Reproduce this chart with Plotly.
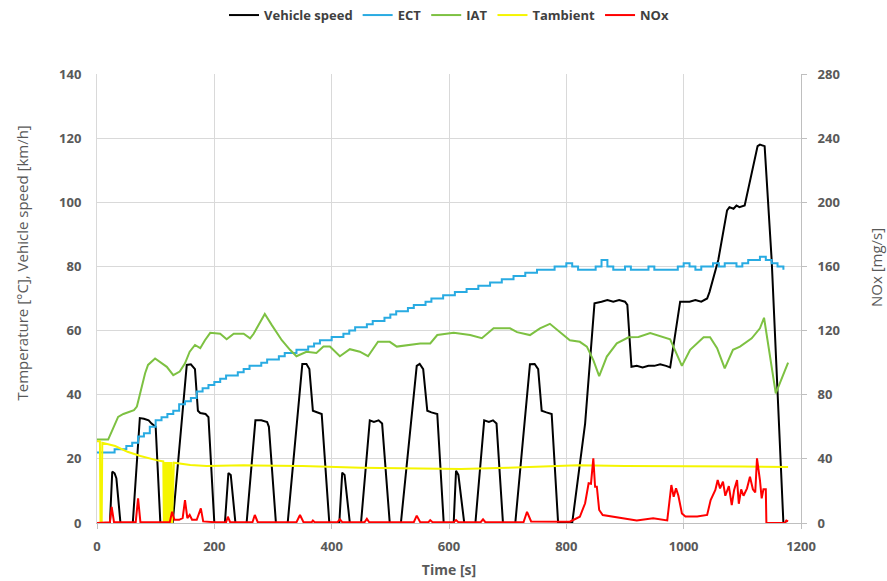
import plotly.graph_objects as go

# ---- Vehicle speed [km/h] ----
speed_t = [0, 22, 26, 30, 33, 40, 61, 73, 80, 88, 93, 100, 108, 129, 153, 160, 167, 172, 176, 185,
           190, 200, 218, 224, 228, 236, 255, 270, 280, 290, 293, 305, 325, 350, 357, 362, 368, 375,
           383, 396, 413, 418, 422, 431, 450, 465, 472, 480, 486, 499, 518, 545, 550, 556, 563, 570,
           580, 591, 608, 612, 616, 626, 645, 660, 668, 675, 681, 692, 713, 738, 746, 752, 758, 766,
           775, 786, 810, 832, 848, 860, 870, 880, 890, 900, 904, 911, 920, 930, 940, 950, 960, 970,
           977, 994, 1000, 1010, 1020, 1030, 1040, 1044, 1059, 1074, 1078, 1085, 1090, 1095, 1104,
           1116, 1126, 1130, 1138, 1150, 1170, 1175]
speed_v = [0, 0, 16, 15.5, 14, 0, 0, 32.7, 32.5, 32, 31, 30, 0, 0, 49.3, 49.5, 48, 35, 34.3, 34,
           33, 0, 0, 15.6, 15, 0, 0, 32, 32, 31.5, 30, 0, 0, 49.6, 49.6, 48, 35, 34.5,
           34, 0, 0, 15.7, 15, 0, 0, 32, 31.5, 32, 31, 0, 0, 49, 49.6, 48, 35, 34.5,
           34, 0, 0, 16.3, 15, 0, 0, 32, 31.5, 32, 31, 0, 0, 49.5, 49.6, 48, 35, 34.5,
           34, 0, 0, 31, 68.5, 69, 69.5, 69, 69.5, 69, 68, 48.7, 49, 48.5, 49, 49, 49.5, 49,
           48.5, 69, 69, 69, 69.5, 69, 70, 72, 82, 97.5, 98.5, 98, 99, 98.5, 99,
           109, 117.5, 118, 117.5, 82, 0, 0]

# ---- Engine coolant temperature [°C], logged every 10 s ----
ect_t = list(range(0, 1180, 10))
ect_v = [22, 22, 22, 23, 23, 24, 25, 27, 28, 30, 32, 33, 34, 35, 37, 38, 39, 41, 42, 43,
         44, 45, 46, 46, 47, 48, 49, 49, 50, 51, 51, 52, 53, 53, 54, 54, 55, 56, 57, 57,
         58, 58, 59, 60, 61, 61, 62, 63, 63, 64, 65, 66, 66, 67, 68, 68, 69, 70, 70, 71,
         71, 72, 72, 73, 73, 74, 74, 75, 75, 76, 76, 77, 77, 78, 78, 79, 79, 79, 80, 80,
         81, 80, 79, 79, 79, 80, 82, 80, 79, 79, 80, 79, 79, 79, 80, 79, 79, 79, 79, 80,
         81, 80, 79, 80, 80, 81, 80, 81, 81, 80, 81, 82, 82, 83, 82, 81, 80, 79]

# ---- Intake air temperature [°C] ----
iat_t = [0, 19, 25, 36, 45, 63, 68, 73, 82, 87, 99, 119, 130, 141, 150, 158, 167, 176, 184, 193,
         210, 221, 233, 250, 261, 267, 286, 298, 315, 329, 340, 357, 374, 386, 397, 414, 431, 448,
         462, 479, 499, 511, 534, 551, 568, 580, 608, 636, 656, 676, 704, 716, 738, 755, 772, 790,
         806, 823, 835, 846, 856, 869, 886, 906, 923, 943, 960, 977, 997, 1011, 1034, 1045, 1057,
         1070, 1084, 1096, 1116, 1130, 1137, 1145, 1157, 1178]
iat_v = [26, 26, 28.5, 33.1, 34, 35.2, 36.3, 40.4, 46.7, 49.3, 51.3, 48.7, 46.1, 47.2, 49.8, 53.4,
         55.5, 54.5, 57, 59.3, 59, 57.3, 59, 59, 57.6, 59, 65.2, 61.7, 57, 54, 52, 53.4, 53, 55,
         55, 52, 54.2, 53.4, 52, 56.5, 56.5, 55, 55.5, 56, 56, 58.6, 59.3, 58.6, 57.6, 60.7, 60.7,
         59.5, 58.6, 60.7, 62.1, 59.3, 57, 56.5, 55, 50.8, 45.8, 51.9, 56, 57.9, 58, 59.2, 58.2,
         57.3, 49, 54, 57.9, 57.9, 54.5, 48.2, 54, 55, 57.6, 60.7, 64, 55, 40.4, 50]

# ---- Ambient temperature [°C] ----
tamb_t = [0, 5, 6, 8, 9, 31, 52, 74, 101, 113, 114, 115, 116, 117, 118, 119, 120, 121, 122, 123,
          124, 125, 126, 127, 128, 131, 159, 187, 250, 350, 450, 550, 620, 700, 760, 820, 900,
          1000, 1100, 1178]
tamb_v = [25.5, 25.5, 0, 0, 25, 24, 22.2, 20.9, 19.6, 19.2, 0, 19, 0, 19, 0, 19, 0, 19, 0, 19,
          0, 19, 0, 19, 0, 18.8, 18.1, 17.8, 18, 17.8, 17.2, 17, 16.8, 17.2, 17.6, 18, 17.8,
          17.8, 17.6, 17.5]

# ---- NOx mass flow [mg/s] ----
nox_t = [0, 22, 25, 29, 66, 70, 74, 124, 128, 132, 140, 146, 150, 154, 158, 162, 170, 177, 181,
         200, 220, 223, 227, 265, 269, 274, 340, 346, 352, 366, 368, 371, 410, 414, 418, 456, 460,
         464, 540, 545, 551, 565, 568, 572, 608, 612, 616, 654, 658, 662, 727, 733, 740, 806, 823,
         832, 838, 842, 846, 849, 852, 856, 862, 880, 903, 920, 948, 972, 979, 983, 987, 991, 997,
         1003, 1023, 1040, 1046, 1054, 1058, 1062, 1067, 1071, 1077, 1082, 1086, 1091, 1094, 1098,
         1102, 1108, 1113, 1118, 1122, 1125, 1130, 1133, 1136, 1140, 1141, 1172, 1175, 1178]
nox_v = [0, 0.5, 10, 0.5, 0.5, 15.4, 0.5, 0.5, 7, 2, 2, 3, 14.3, 3, 5, 2, 2, 9.1, 1,
         0.5, 0.5, 3.9, 0.5, 0.5, 5, 0.5, 0.5, 5, 0.5, 0.5, 1.5, 0.5, 0.5, 2.3, 0.5, 0.5, 2.6,
         0.5, 0.5, 4.6, 0.5, 0.5, 1.8, 0.5, 0.5, 1.8, 0.5, 0.5, 2.3, 0.5, 0.5, 7, 1, 0.8, 3.9,
         12.3, 24.8, 24.5, 40.3, 22.6, 22.6, 8.1, 5, 4, 2.3, 1.6, 3, 1.6, 23.7, 16.4, 21.6, 17, 6,
         4, 4, 5, 14.3, 20.6, 26.8, 21.6, 25.8, 17, 23, 11.2, 20.6, 26.8, 12, 21,
         17, 21.6, 28.9, 21, 19, 40.3, 26.8, 15.4, 21, 21, 0, 0, 1.5, 1]

grey = "#595959"
grid = "#d9d9d9"
axis_line = "#bfbfbf"
font_family = "Open Sans, Lato, sans-serif"

fig = go.Figure()
fig.add_trace(go.Scatter(x=speed_t, y=speed_v, name="Vehicle speed", mode="lines",
                         line=dict(color="#000000", width=2)))
fig.add_trace(go.Scatter(x=ect_t, y=ect_v, name="ECT", mode="lines",
                         line=dict(color="#29abe2", width=2, shape="hv")))
fig.add_trace(go.Scatter(x=iat_t, y=iat_v, name="IAT", mode="lines",
                         line=dict(color="#7dc142", width=2)))
fig.add_trace(go.Scatter(x=tamb_t, y=tamb_v, name="Tambient", mode="lines",
                         line=dict(color="#f5f500", width=2)))
fig.add_trace(go.Scatter(x=nox_t, y=nox_v, name="NOx", mode="lines", yaxis="y2",
                         line=dict(color="#ff0000", width=2)))

tick_font = dict(family=font_family, size=13, color=grey, weight="bold")
title_font = dict(family=font_family, size=15, color=grey)

fig.update_layout(
    width=887, height=581,
    margin=dict(l=97, r=86, t=74, b=58),
    paper_bgcolor="white", plot_bgcolor="white",
    font=dict(family=font_family, color=grey),
    showlegend=True,
    legend=dict(orientation="h", x=0.5, xanchor="center", y=0.974, yref="container",
                yanchor="middle", font=dict(family=font_family, size=13, color="#404040",
                                              weight="bold"),
                bgcolor="rgba(0,0,0,0)"),
    xaxis=dict(range=[0, 1200], dtick=200, tick0=0, showgrid=True, gridcolor=grid, gridwidth=1,
               showline=True, linecolor=axis_line, linewidth=1, zeroline=False,
               ticks="outside", ticklen=5, tickcolor=axis_line, tickfont=tick_font,
               ticklabelstandoff=6,
               title=dict(text="Time [s]", font=dict(family=font_family, size=14, color=grey,
                                                     weight="bold"), standoff=11),
               automargin=False),
    yaxis=dict(range=[0, 140], dtick=20, tick0=0, showgrid=True, gridcolor=grid, gridwidth=1,
               showline=True, linecolor=grid, linewidth=1, zeroline=False,
               ticks="", tickfont=tick_font, ticklabelstandoff=12,
               automargin=False),
    yaxis2=dict(range=[0, 280], dtick=40, tick0=0, overlaying="y", side="right",
                showgrid=False, showline=True, linecolor=axis_line, linewidth=1, zeroline=False,
                ticks="outside", ticklen=5, tickcolor=axis_line, tickfont=tick_font,
                ticklabelstandoff=8,
                automargin=False),
    annotations=[
        dict(text="Temperature [°C], Vehicle speed [km/h]", textangle=-90,
             xref="paper", yref="paper", x=-0.1065, y=0.578, xanchor="center",
             yanchor="middle", showarrow=False, font=title_font),
        dict(text="NOx [mg/s]", textangle=-90,
             xref="paper", yref="paper", x=1.1065, y=0.57, xanchor="center",
             yanchor="middle", showarrow=False, font=title_font),
    ],
)

fig.write_html("out.html")
